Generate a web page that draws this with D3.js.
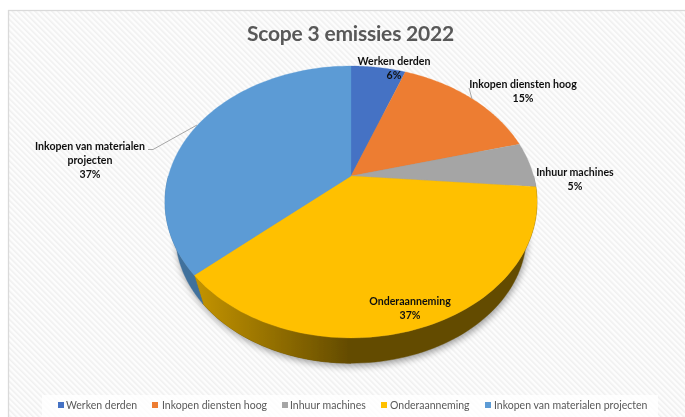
<!DOCTYPE html>
<html><head><meta charset="utf-8">
<script src="https://cdn.jsdelivr.net/npm/d3@7"></script>
<style>html,body{margin:0;padding:0;background:#fff;overflow:hidden}svg{display:block}text{font-family:Lato,"Open Sans",sans-serif}</style>
</head><body><svg id="c" width="685" height="417"></svg>
<script>
const categories=["Werken derden","Inkopen diensten hoog","Inhuur machines","Onderaanneming","Inkopen van materialen projecten"];
const values=[5.7,15.2,5.4,37.2,36.5];
const pctLabels=["6%","15%","5%","37%","37%"];
const colors=["#4472c4","#ed7d31","#a5a5a5","#ffc000","#5b9bd5"];
const sideColors=["#2f4f8a","#a85820","#747474","#634b00","#41719c"];
const title="Scope 3 emissies 2022";

const svgRoot=d3.select("#c");
const defs=svgRoot.append("defs");
const pat=defs.append("pattern").attr("id","hatch").attr("width",4).attr("height",4).attr("patternUnits","userSpaceOnUse").attr("patternTransform","rotate(-45)");
pat.append("rect").attr("width",4).attr("height",4).attr("fill","#fdfdfd");
pat.append("rect").attr("width",1.6).attr("height",4).attr("fill","#f0f0f0");
const yg=defs.append("linearGradient").attr("id","sideY").attr("gradientUnits","userSpaceOnUse").attr("x1",195).attr("x2",350).attr("y1",0).attr("y2",0);
yg.append("stop").attr("offset",0).attr("stop-color","#c49400");
yg.append("stop").attr("offset",1).attr("stop-color","#634b00");
defs.append("filter").attr("id","sh").attr("x","-20%").attr("y","-20%").attr("width","140%").attr("height","140%")
 .append("feGaussianBlur").attr("stdDeviation",3.5);
defs.append("filter").attr("id","soft").attr("x",0).attr("y",0).attr("width","100%").attr("height","100%")
 .append("feGaussianBlur").attr("stdDeviation",0.4);
const svg=svgRoot.append("g").attr("filter","url(#soft)");

const W=685,H=417;
svg.append("rect").attr("width",W).attr("height",H).attr("fill","#fff");
svg.append("rect").attr("x",8.5).attr("y",10.5).attr("width",W+10).attr("height",H+10).attr("fill","url(#hatch)").attr("stroke","#dadada").attr("stroke-width",1.3);

// perspective disc: top face, then a slightly smaller lower rim
const cx=351,cy=176,R=182.6,A=131,P=0.191;
const ellipseY=202,lowerY=235,lowerScale=0.943;
const proj=(t)=>{const X=Math.sin(t),Y=Math.cos(t),w=1+P*Y;return [cx+R*X/w,cy-A*Y/w];};
const lower=p=>[cx+(p[0]-cx)*lowerScale,lowerY+(p[1]-ellipseY)*lowerScale];
const pie=d3.pie().sort(null).startAngle(0).endAngle(2*Math.PI)(values);
const line=d3.line();
const rim=(a,b)=>d3.range(0,81).map(i=>proj(a+(b-a)*i/80));
const cs=rim(0,2*Math.PI);

// shadow
svg.append("path").attr("d",line(cs.map(lower))+"Z").attr("transform","translate(1,3)").attr("fill","#000").attr("opacity",.38).attr("filter","url(#sh)");

// side walls
pie.forEach((d,i)=>{
 const a=Math.max(d.startAngle,Math.PI/2),b=Math.min(d.endAngle,3*Math.PI/2);
 if(b<=a)return;
 const wall=(s,e,fill)=>{
  const top=rim(s,e),bot=top.map(lower).reverse();
  svg.append("path").attr("d",line(top.concat(bot))+"Z").attr("fill",fill).attr("stroke",fill).attr("stroke-width",.4);
 };
 wall(a,b,sideColors[i]);
 // the left part of the large front wall catches the light
 if(i===3) wall(Math.PI,b,"url(#sideY)");
});

// top faces
pie.forEach((d,i)=>{
 svg.append("path").attr("d",line([[cx,cy]].concat(rim(d.startAngle,d.endAngle)))+"Z").attr("fill",colors[i]).attr("stroke",colors[i]).attr("stroke-width",.3);
});

// title
svg.append("text").attr("x",350.5).attr("y",41).attr("text-anchor","middle").attr("font-size",21).attr("letter-spacing",-.2).attr("font-weight",700).attr("fill","#595959").text(title);

// labels
const labelPos=[[394,65],[523,88],[575,176],[410,305],[90,150]];
const labelLines=[[categories[0]],[categories[1]],[categories[2]],[categories[3]],["Inkopen van materialen","projecten"]];
labelLines.forEach((ls,i)=>{
 const t=svg.append("text").attr("text-anchor","middle").attr("font-size",10.6).attr("font-weight",700).attr("fill","#111");
 ls.concat([pctLabels[i]]).forEach((s,j)=>t.append("tspan").attr("x",labelPos[i][0]).attr("y",labelPos[i][1]+j*14).text(s));
});
svg.append("path").attr("d",line([[469,88],[472,99]])).attr("stroke","#a6a6a6").attr("fill","none");
svg.append("path").attr("d",line([[148,149.5],[153,149.5],[197,125]])).attr("stroke","#a6a6a6").attr("fill","none");

// legend
const legSwatch=[58,152,282,381,485];
const legText=[66,162,290,390,494];
svg.append("rect").attr("x",42).attr("y",395).attr("width",616).attr("height",22).attr("fill","#fff").attr("opacity",.8);
categories.forEach((c,i)=>{
 svg.append("rect").attr("x",legSwatch[i]).attr("y",402).attr("width",6).attr("height",6).attr("fill",colors[i]);
 svg.append("text").attr("x",legText[i]).attr("y",409).attr("font-size",10.5).attr("fill","#595959").text(c);
});
</script></body></html>
